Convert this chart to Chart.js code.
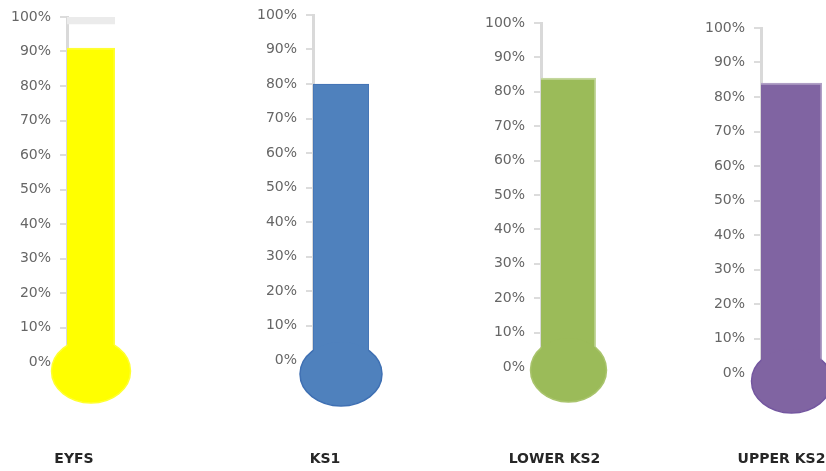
<!DOCTYPE html>
<html><head><meta charset="utf-8">
<script src="https://cdn.jsdelivr.net/npm/chart.js@4.4.1/dist/chart.umd.min.js"></script>
<style>
html,body{margin:0;padding:0;background:#fff;overflow:hidden;}
#wrap{position:relative;width:826px;height:471px;overflow:hidden;background:#fff;}
#wrap canvas{position:absolute;top:0;}
</style></head><body><div id="wrap"></div>
<script>
// ---- data ----
const categories = ['EYFS', 'KS1', 'LOWER KS2', 'UPPER KS2'];
const values = [91, 80, 84, 84];
const tickLabels = ['0%','10%','20%','30%','40%','50%','60%','70%','80%','90%','100%'];
const capRanges = [[98, 100], null, null, null];

// ---- styles ----
const fills = ['#ffff00', '#4f81bd', '#9bbb59', '#8064a2'];
const edges = ['#ffff33', '#4272b4', '#c4d79e', '#b1a0c6'];
const bulbEdges = ['#ffff30', '#3f70b3', '#a9c46c', '#7457a0'];

// ---- layout (pixel frame of each thermometer) ----
const frames = [
  {axisX: 67,  top: 17, bottom: 362, barW: 48, rx: 39.5, ry: 32, dy: 9,  labelDx: -17},
  {axisX: 313, top: 15, bottom: 360, barW: 56, rx: 41,   ry: 32, dy: 14, labelDx: -16},
  {axisX: 541, top: 23, bottom: 367, barW: 55, rx: 38,   ry: 32, dy: 3,  labelDx: -14},
  {axisX: 761, top: 28, bottom: 373, barW: 61, rx: 40,   ry: 32, dy: 8,  labelDx: -10}
];
const H = 471, AXW = 66, PADR = 50, LABEL_Y = 459;

Chart.defaults.font.family = "'DejaVu Sans', sans-serif";

const bulbPlugin = {
  id: 'bulb',
  afterDatasetsDraw(chart, args, opts) {
    const bar = chart.getDatasetMeta(0).data[0];
    const y0 = chart.scales.y.getPixelForValue(0);
    const ctx = chart.ctx;
    const cy = y0 + opts.dy;
    const half = bar.width / 2;
    ctx.save();
    ctx.beginPath();
    ctx.ellipse(bar.x, cy, opts.rx, opts.ry, 0, 0, Math.PI * 2);
    ctx.fillStyle = opts.fill;
    ctx.fill();
    ctx.beginPath();
    ctx.rect(0, 0, chart.width, chart.height);
    ctx.rect(bar.x - half + 0.5, 0, bar.width - 1, cy);
    ctx.clip('evenodd');
    ctx.beginPath();
    ctx.ellipse(bar.x, cy, opts.rx, opts.ry, 0, 0, Math.PI * 2);
    ctx.lineWidth = 1.5;
    ctx.strokeStyle = opts.edge;
    ctx.stroke();
    ctx.restore();
  }
};

const wrap = document.getElementById('wrap');
categories.forEach((cat, i) => {
  const f = frames[i];
  const cv = document.createElement('canvas');
  const w = AXW + f.barW + PADR;
  cv.width = w; cv.height = H;
  cv.style.left = (f.axisX - AXW) + 'px';
  cv.style.width = w + 'px'; cv.style.height = H + 'px';
  wrap.appendChild(cv);

  const datasets = [{
    data: [values[i]],
    backgroundColor: fills[i],
    borderColor: edges[i],
    borderWidth: i === 1 ? {left: 1, right: 1, top: 1, bottom: 0} : {left: 0, right: 2, top: 2, bottom: 0},
    borderSkipped: false,
    barPercentage: 1, categoryPercentage: 1, grouped: false
  }];
  if (capRanges[i]) {
    datasets.push({
      data: [capRanges[i]],
      backgroundColor: '#ebebeb', borderWidth: 0,
      barPercentage: 1, categoryPercentage: 1, grouped: false
    });
  }

  new Chart(cv, {
    type: 'bar',
    data: {labels: [cat], datasets},
    plugins: [bulbPlugin],
    options: {
      responsive: false, animation: false, devicePixelRatio: 1,
      layout: {padding: {top: f.top, left: 0, right: PADR, bottom: 0}},
      plugins: {
        legend: {display: false}, tooltip: {enabled: false},
        bulb: {fill: fills[i], edge: bulbEdges[i], rx: f.rx, ry: f.ry, dy: f.dy}
      },
      scales: {
        x: {
          grid: {display: false, drawTicks: false},
          border: {display: false},
          ticks: {
            padding: LABEL_Y - f.bottom - 8.4,
            labelOffset: f.labelDx,
            color: '#262626',
            font: {size: 14, weight: 'bold'},
            maxRotation: 0, autoSkip: false
          },
          afterFit(s) { s.height = H - f.bottom; s.paddingLeft = 0; s.paddingRight = 0; }
        },
        y: {
          min: 0, max: 100,
          grid: {drawOnChartArea: false, drawTicks: true, tickLength: 7, color: '#dcdcdc', lineWidth: 2},
          border: {display: true, color: '#d9d9d9', width: 3},
          ticks: {
            stepSize: 10, padding: 9, color: '#666666',
            font: {size: 14},
            callback: (v, idx) => tickLabels[idx]
          },
          afterFit(s) { s.width = AXW; s.paddingTop = 0; s.paddingBottom = 0; }
        }
      }
    }
  });
});
</script>
</body></html>
